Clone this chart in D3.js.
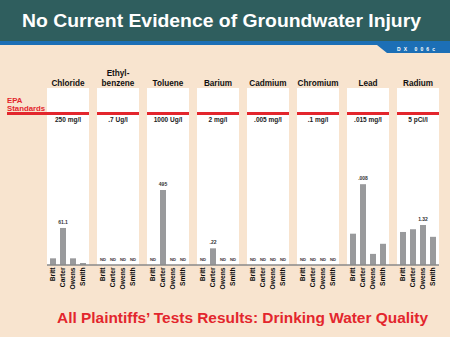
<!DOCTYPE html>
<html>
<head>
<meta charset="utf-8">
<script src="https://cdn.jsdelivr.net/npm/d3@7"></script>
<style>
  html, body { margin: 0; padding: 0; background: #f8e4cf; }
  svg { display: block; font-family: "Liberation Sans", Arial, Helvetica, sans-serif; font-weight: bold; }
</style>
</head>
<body>
<svg id="chart" width="450" height="337"></svg>
<script>
// ---- Data ----
const analytes = ["Chloride", "Ethyl-benzene", "Toluene", "Barium", "Cadmium", "Chromium", "Lead", "Radium"];
const standards = [250, 0.7, 1000, 2, 0.005, 0.1, 0.015, 5];
const standardLabels = ["250 mg/l", ".7 Ug/l", "1000 Ug/l", "2 mg/l", ".005 mg/l", ".1 mg/l", ".015 mg/l", "5 pCi/l"];
const plaintiffs = ["Britt", "Carter", "Owens", "Smith"];
// null = ND (not detected)
const chlorideValues = [11, 61.1, 11, 3.3];
const ethylbenzeneValues = [null, null, null, null];
const tolueneValues = [null, 495, null, null];
const bariumValues = [null, 0.22, null, null];
const cadmiumValues = [null, null, null, null];
const chromiumValues = [null, null, null, null];
const leadValues = [0.0031, 0.008, 0.0011, 0.0021];
const radiumValues = [1.09, 1.18, 1.32, 0.93];
const valueLabels = [
  [null, "61.1", null, null],
  [null, null, null, null],
  [null, "495", null, null],
  [null, ".22", null, null],
  [null, null, null, null],
  [null, null, null, null],
  [null, ".008", null, null],
  [null, null, "1.32", null]
];
const title = "No Current Evidence of Groundwater Injury";
const subtitle = "All Plaintiffs\u2019 Tests Results:  Drinking Water Quality";
const exhibit = "DX 006c";

const results = [chlorideValues, ethylbenzeneValues, tolueneValues, bariumValues,
                 cadmiumValues, chromiumValues, leadValues, radiumValues];

// ---- Layout ----
const svg = d3.select("#chart");
const W = 450, H = 337;
const baseY = 265, stdY = 113.5, panelTop = 88;
const red = "#e3262d", teal = "#2f5e5e", blue = "#1c6fb6", barGray = "#999a9c";

svg.append("rect").attr("width", W).attr("height", H).attr("fill", "#f8e4cf");

// Header
svg.append("rect").attr("x", 0).attr("y", 0).attr("width", W).attr("height", 41).attr("fill", teal);
svg.append("rect").attr("x", 0).attr("y", 41).attr("width", W).attr("height", 4).attr("fill", blue);
svg.append("path").attr("d", "M377,45 L450,45 L450,53 L387,53 Z").attr("fill", blue);
svg.append("text").attr("x", 397).attr("y", 51).attr("fill", "#fff")
  .attr("font-size", 5).attr("textLength", 38).attr("lengthAdjust", "spacing").text(exhibit);
svg.append("text").attr("x", 22).attr("y", 27).attr("fill", "#fff")
  .attr("font-size", 18.5).attr("textLength", 399).attr("lengthAdjust", "spacingAndGlyphs").text(title);

// Panels
const xPanel = d3.scaleBand().domain(analytes).range([47, 439]).paddingInner(0.16).paddingOuter(0);

// EPA standards label
const epa = svg.append("text").attr("fill", red).attr("font-size", 7.8);
epa.append("tspan").attr("x", 7).attr("y", 103).text("EPA");
epa.append("tspan").attr("x", 7).attr("y", 110.5).text("Standards");

analytes.forEach((name, i) => {
  const x0 = xPanel(name), bw = xPanel.bandwidth();
  const g = svg.append("g");
  g.append("rect").attr("x", x0).attr("y", panelTop).attr("width", bw).attr("height", baseY - panelTop).attr("fill", "#fff");

  const y = d3.scaleLinear().domain([0, standards[i]]).range([baseY, stdY]);
  const xb = d3.scaleBand().domain(plaintiffs).range([x0 + 1, x0 + bw - 1]).paddingInner(0.4).paddingOuter(0.2);

  // Standard line
  const lineX0 = i === 0 ? 7 : x0;
  g.append("rect").attr("x", lineX0).attr("y", y(standards[i]) - 1.5).attr("width", x0 + bw - lineX0).attr("height", 3).attr("fill", red);
  g.append("text").attr("x", x0 + bw / 2).attr("y", y(standards[i]) + 8.5).attr("text-anchor", "middle")
    .attr("font-size", 6.5).attr("fill", "#222").text(standardLabels[i]);

  // Title (split after hyphen)
  const parts = name.split(/(?<=-)/);
  parts.forEach((p, k) => {
    g.append("text").attr("text-anchor", "middle").attr("font-size", 8.2).attr("fill", "#111")
      .attr("x", x0 + bw / 2).attr("y", 85.5 - (parts.length - 1 - k) * 9.3).text(p);
  });

  // Bars
  const vals = results[i];
  plaintiffs.forEach((p, k) => {
    const v = vals[k];
    if (v == null) {
      g.append("text").attr("x", xb(p) + xb.bandwidth() / 2).attr("y", baseY - 4.5).attr("text-anchor", "middle")
        .attr("font-size", 4.2).attr("fill", "#333").text("ND");
    } else {
      g.append("rect").attr("x", xb(p)).attr("y", y(v)).attr("width", xb.bandwidth()).attr("height", baseY - y(v)).attr("fill", barGray);
      if (valueLabels[i][k]) {
        g.append("text").attr("x", xb(p) + xb.bandwidth() / 2).attr("y", y(v) - 4).attr("text-anchor", "middle")
          .attr("font-size", 5).attr("fill", "#333").text(valueLabels[i][k]);
      }
    }
    // rotated category label
    const cx = xb(p) + xb.bandwidth() / 2;
    g.append("text").attr("transform", `translate(${cx + 2.4},${baseY + 2.5}) rotate(-90)`)
      .attr("text-anchor", "end").attr("font-size", 6.7).attr("fill", "#111").text(p);
  });
});

// Baseline axis
svg.append("line").attr("x1", 47).attr("x2", 439).attr("y1", baseY).attr("y2", baseY)
  .attr("stroke", "#8a8a8a").attr("stroke-width", 1.5);

// Bottom subtitle
svg.append("text").attr("x", 57).attr("y", 323).attr("fill", red)
  .attr("font-size", 14).attr("textLength", 371).attr("lengthAdjust", "spacingAndGlyphs").text(subtitle);
</script>
</body>
</html>
